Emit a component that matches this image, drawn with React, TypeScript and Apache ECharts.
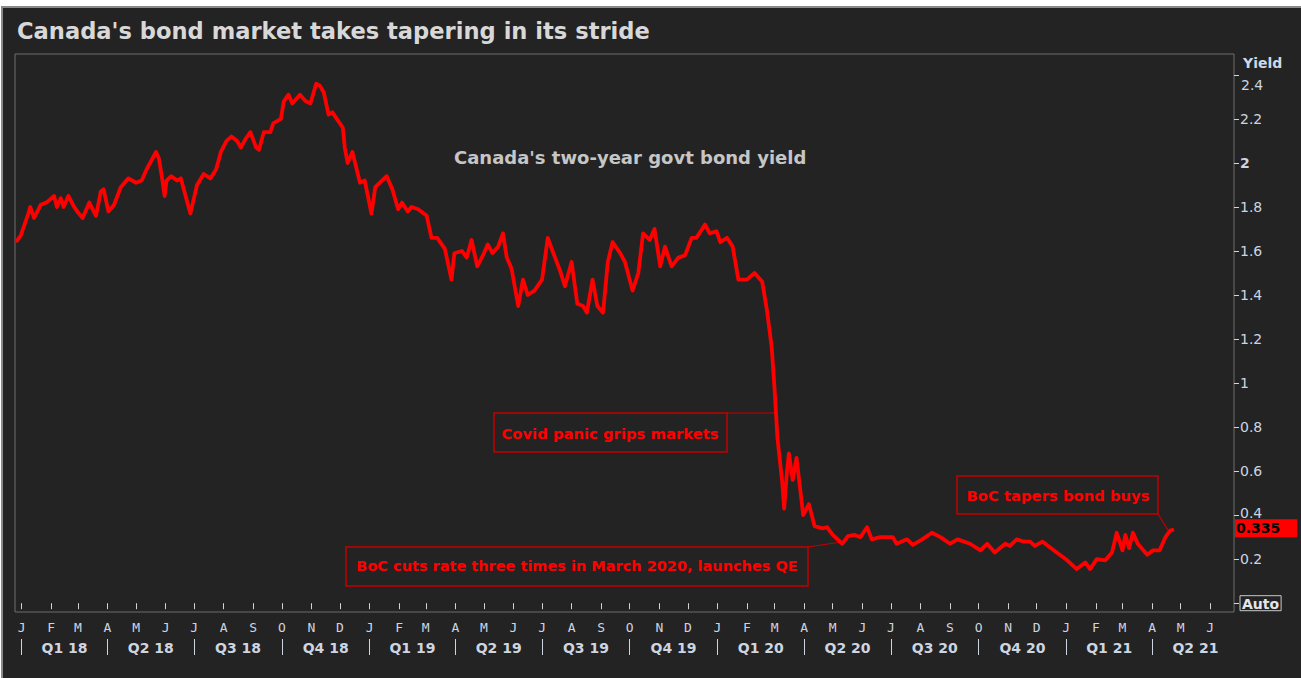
import React, { useEffect, useRef } from "react";
import * as echarts from "echarts";

const titleText = "Canada's bond market takes tapering in its stride";
const seriesLabel = "Canada's two-year govt bond yield";
const axisName = "Yield";
const axisStart = "2017-12-25";
const axisEnd = "2021-06-26";
const lastValue = 0.335;

const monthLetters = ["J", "F", "M", "A", "M", "J", "J", "A", "S", "O", "N", "D"];
const yTickValues = [0, 0.2, 0.4, 0.6, 0.8, 1, 1.2, 1.4, 1.6, 1.8, 2, 2.2, 2.4];

const dates = [
  "2017-12-26", "2017-12-31", "2018-01-04", "2018-01-08", "2018-01-10", "2018-01-14", "2018-01-21", "2018-01-27",
  "2018-02-04", "2018-02-07", "2018-02-11", "2018-02-14", "2018-02-19", "2018-02-25", "2018-03-02", "2018-03-06",
  "2018-03-13", "2018-03-20", "2018-03-25", "2018-03-28", "2018-04-02", "2018-04-08", "2018-04-15", "2018-04-23",
  "2018-05-01", "2018-05-07", "2018-05-12", "2018-05-17", "2018-05-22", "2018-05-25", "2018-05-28", "2018-05-31",
  "2018-06-02", "2018-06-07", "2018-06-13", "2018-06-17", "2018-06-22", "2018-06-27", "2018-07-04", "2018-07-11",
  "2018-07-18", "2018-07-24", "2018-07-29", "2018-08-04", "2018-08-09", "2018-08-15", "2018-08-19", "2018-08-24",
  "2018-08-29", "2018-09-04", "2018-09-07", "2018-09-12", "2018-09-19", "2018-09-22", "2018-09-30", "2018-10-03",
  "2018-10-08", "2018-10-12", "2018-10-20", "2018-10-26", "2018-10-31", "2018-11-06", "2018-11-10", "2018-11-14",
  "2018-11-19", "2018-11-23", "2018-12-04", "2018-12-06", "2018-12-09", "2018-12-14", "2018-12-22", "2018-12-27",
  "2019-01-03", "2019-01-07", "2019-01-19", "2019-01-25", "2019-01-31", "2019-02-04", "2019-02-10", "2019-02-14",
  "2019-02-21", "2019-03-02", "2019-03-07", "2019-03-13", "2019-03-21", "2019-03-28", "2019-03-31", "2019-04-08",
  "2019-04-13", "2019-04-18", "2019-04-24", "2019-04-30", "2019-05-05", "2019-05-10", "2019-05-16", "2019-05-21",
  "2019-05-25", "2019-05-30", "2019-06-06", "2019-06-11", "2019-06-16", "2019-06-23", "2019-07-01", "2019-07-07",
  "2019-07-12", "2019-07-20", "2019-07-25", "2019-08-01", "2019-08-07", "2019-08-13", "2019-08-17", "2019-08-23",
  "2019-08-28", "2019-09-03", "2019-09-08", "2019-09-13", "2019-09-21", "2019-09-26", "2019-10-04", "2019-10-10",
  "2019-10-15", "2019-10-22", "2019-10-27", "2019-11-02", "2019-11-07", "2019-11-14", "2019-11-21", "2019-11-28",
  "2019-12-05", "2019-12-10", "2019-12-19", "2019-12-24", "2019-12-31", "2020-01-04", "2020-01-11", "2020-01-17",
  "2020-01-23", "2020-02-01", "2020-02-09", "2020-02-17", "2020-02-22", "2020-02-27", "2020-03-01", "2020-03-04",
  "2020-03-09", "2020-03-11", "2020-03-14", "2020-03-16", "2020-03-20", "2020-03-24", "2020-03-27", "2020-03-31",
  "2020-04-06", "2020-04-12", "2020-04-20", "2020-04-25", "2020-05-01", "2020-05-11", "2020-05-17", "2020-05-24",
  "2020-05-30", "2020-06-06", "2020-06-11", "2020-06-20", "2020-06-28", "2020-07-03", "2020-07-07", "2020-07-18",
  "2020-07-24", "2020-08-03", "2020-08-13", "2020-08-22", "2020-09-01", "2020-09-09", "2020-09-22", "2020-10-03",
  "2020-10-10", "2020-10-18", "2020-10-29", "2020-11-03", "2020-11-10", "2020-11-17", "2020-11-24", "2020-11-29",
  "2020-12-07", "2020-12-13", "2020-12-22", "2021-01-02", "2021-01-12", "2021-01-21", "2021-01-26", "2021-02-02",
  "2021-02-11", "2021-02-18", "2021-02-23", "2021-03-01", "2021-03-04", "2021-03-08", "2021-03-12", "2021-03-17",
  "2021-03-27", "2021-04-02", "2021-04-09", "2021-04-15", "2021-04-20", "2021-04-24",
];

const yields = [
  1.64, 1.67, 1.72, 1.77, 1.8, 1.75, 1.81, 1.82,
  1.85, 1.8, 1.84, 1.8, 1.85, 1.8, 1.77, 1.75,
  1.82, 1.76, 1.87, 1.88, 1.78, 1.81, 1.89, 1.93,
  1.91, 1.92, 1.97, 2.01, 2.05, 2.02, 1.94, 1.85,
  1.92, 1.94, 1.92, 1.93, 1.85, 1.77, 1.9, 1.95,
  1.93, 1.97, 2.05, 2.1, 2.12, 2.1, 2.07, 2.11,
  2.14, 2.07, 2.06, 2.14, 2.14, 2.18, 2.2, 2.28,
  2.31, 2.27, 2.31, 2.28, 2.27, 2.36, 2.35, 2.32,
  2.22, 2.23, 2.16, 2.07, 2.0, 2.05, 1.91, 1.92,
  1.77, 1.89, 1.94, 1.88, 1.79, 1.82, 1.78, 1.8,
  1.79, 1.76, 1.66, 1.66, 1.61, 1.47, 1.59, 1.6,
  1.57, 1.65, 1.53, 1.58, 1.63, 1.59, 1.62, 1.68,
  1.57, 1.52, 1.35, 1.47, 1.4, 1.42, 1.47, 1.66,
  1.6, 1.51, 1.44, 1.55, 1.36, 1.35, 1.32, 1.47,
  1.35, 1.32, 1.55, 1.64, 1.59, 1.55, 1.42, 1.5,
  1.68, 1.65, 1.7, 1.53, 1.62, 1.53, 1.57, 1.58,
  1.66, 1.66, 1.72, 1.68, 1.69, 1.64, 1.66, 1.62,
  1.47, 1.47, 1.5, 1.46, 1.33, 1.16, 0.97, 0.75,
  0.55, 0.43, 0.6, 0.68, 0.56, 0.66, 0.55, 0.4,
  0.45, 0.35, 0.34, 0.345, 0.31, 0.27, 0.305, 0.31,
  0.3, 0.345, 0.29, 0.3, 0.3, 0.3, 0.27, 0.29,
  0.265, 0.29, 0.32, 0.3, 0.27, 0.29, 0.27, 0.24,
  0.27, 0.23, 0.27, 0.26, 0.29, 0.28, 0.28, 0.26,
  0.28, 0.26, 0.23, 0.195, 0.155, 0.185, 0.155, 0.2,
  0.195, 0.23, 0.32, 0.24, 0.31, 0.25, 0.32, 0.27,
  0.22, 0.24, 0.24, 0.3, 0.33, 0.335,
];

const annotationTexts = [
  "Covid panic grips markets",
  "BoC cuts rate three times in March 2020, launches QE",
  "BoC tapers bond buys",
];
const annotationAnchorDates = ["2020-03-01", "2020-05-08", "2021-04-18"];
const annotationAnchorValues = [0.864, 0.277, 0.33];

function parseDate(s: string): number {
  const [y, m, d] = s.split("-").map(Number);
  return new Date(y, m - 1, d).getTime();
}

const LABEL = "#cdd5e1";
const RED = "#ff0000";
const BOX = "#c40000";

export default function App() {
  const ref = useRef<HTMLDivElement>(null);

  useEffect(() => {
    document.body.style.margin = "0";
    if (!ref.current) return;
    const chart = echarts.init(ref.current, null, { renderer: "svg" });

    const minT = parseDate(axisStart);
    const maxT = parseDate(axisEnd);

    const monthStarts: number[] = [];
    for (let y = 2018; y <= 2021; y++) {
      for (let m = 0; m < 12; m++) {
        if (y === 2021 && m > 5) break;
        monthStarts.push(new Date(y, m, 1).getTime());
      }
    }
    const quarterStarts: number[] = [];
    const quarterMids: number[] = [];
    for (let y = 2018; y <= 2021; y++) {
      for (let q = 0; q < 4; q++) {
        if (y === 2021 && q > 1) break;
        const s = new Date(y, q * 3, 1).getTime();
        const e = new Date(y, q * 3 + 3, 1).getTime();
        quarterStarts.push(s);
        quarterMids.push(s + (e - s) / 2);
      }
    }

    const seriesData = dates.map((d, i) => [parseDate(d), yields[i]]);

    const fontMain = '"DejaVu Sans", sans-serif';

    chart.setOption({
      animation: false,
      backgroundColor: "#ffffff",
      grid: {
        left: 15,
        right: 67,
        top: 54,
        bottom: 66,
        show: true,
        borderColor: "#6e6e6e",
        borderWidth: 1,
        backgroundColor: "transparent",
        containLabel: false,
      },
      xAxis: [
        {
          type: "value",
          min: minT,
          max: maxT,
          position: "bottom",
          axisLine: { show: false },
          splitLine: { show: false },
          axisTick: {
            show: true,
            customValues: monthStarts,
            length: 6,
            lineStyle: { color: LABEL, width: 1 },
          },
          axisLabel: {
            show: true,
            customValues: monthStarts,
            margin: 9,
            fontSize: 13,
            fontFamily: '"DejaVu Sans Mono", monospace',
            color: LABEL,
            formatter: (v: number) => monthLetters[new Date(v).getMonth()],
          },
        },
        {
          type: "value",
          min: minT,
          max: maxT,
          position: "bottom",
          offset: 27,
          axisLine: { show: false },
          splitLine: { show: false },
          axisTick: {
            show: true,
            customValues: quarterStarts,
            length: 16,
            lineStyle: { color: LABEL, width: 1 },
          },
          axisLabel: {
            show: true,
            customValues: quarterMids,
            margin: 2,
            fontSize: 14,
            fontWeight: "bold",
            fontFamily: fontMain,
            color: LABEL,
            formatter: (v: number) => {
              const d = new Date(v);
              const q = Math.floor(d.getMonth() / 3) + 1;
              return "Q" + q + " " + String(d.getFullYear()).slice(2);
            },
          },
        },
      ],
      yAxis: {
        type: "value",
        position: "right",
        min: -0.04,
        max: 2.495,
        splitLine: { show: false },
        axisLine: { show: false },
        axisTick: {
          show: true,
          customValues: yTickValues,
          length: 5,
          lineStyle: { color: LABEL },
        },
        axisLabel: {
          show: true,
          customValues: yTickValues,
          margin: 6,
          fontSize: 14,
          fontFamily: fontMain,
          color: LABEL,
          formatter: (v: number) => {
            const r = Math.round(v * 10) / 10;
            if (r === 0) return "{auto|Auto}";
            if (r === 2) return "{b|2}";
            if (r === 2.4) return "{low|2.4}";
            if (r === 0.4) return "{up|0.4}";
            return String(r);
          },
          rich: {
            auto: {
              fontSize: 14,
              fontWeight: "bold",
              fontFamily: fontMain,
              color: "#e2e6ec",
              borderColor: "#c8c8c8",
              borderWidth: 1,
              padding: [1, 2, 0, 2],
            },
            b: {
              fontSize: 14,
              fontWeight: "bold",
              fontFamily: fontMain,
              color: LABEL,
            },
            low: {
              fontSize: 14,
              fontFamily: fontMain,
              color: LABEL,
              padding: [20, 0, 0, 1],
            },
            up: {
              fontSize: 14,
              fontFamily: fontMain,
              color: LABEL,
              lineHeight: 14,
              padding: [0, 0, 5, 0],
            },
          },
        },
      },
      series: [
        {
          type: "line",
          data: seriesData,
          showSymbol: false,
          symbol: "none",
          lineStyle: { color: RED, width: 3.8, join: "round" },
          itemStyle: { color: RED },
          z: 5,
          markLine: {
            silent: true,
            symbol: "none",
            lineStyle: { color: "rgba(0,0,0,0)", width: 0, type: "solid" },
            data: [{ yAxis: lastValue }],
            label: {
              show: true,
              position: "end",
              distance: 1,
              formatter: String(lastValue),
              color: "#000000",
              fontWeight: "bold",
              fontSize: 14,
              fontFamily: fontMain,
              backgroundColor: RED,
              lineHeight: 16,
              padding: [1, 17, 1, 1],
            },
          },
        },
      ],
      graphic: {
        elements: [
          {
            id: "panel",
            type: "rect",
            z: -10,
            silent: true,
            shape: { x: 2, y: 7, width: 1302, height: 675 },
            style: { fill: "#232323", stroke: "#8a8a8a", lineWidth: 2 },
          },
          {
            id: "title",
            type: "text",
            x: 17,
            y: 31,
            style: {
              text: titleText,
              fill: "#d8d8d8",
              font: "bold 22.6px " + fontMain,
              verticalAlign: "middle",
              textAlign: "left",
            },
          },
          {
            id: "serieslabel",
            type: "text",
            x: 454,
            y: 157,
            style: {
              text: seriesLabel,
              fill: "#c6c6c6",
              font: "bold 18px " + fontMain,
              verticalAlign: "middle",
              textAlign: "left",
            },
          },
          {
            id: "yname",
            type: "text",
            x: 1243,
            y: 63,
            style: {
              text: axisName,
              fill: "#cfd8e6",
              font: "bold 14px " + fontMain,
              verticalAlign: "middle",
              textAlign: "left",
            },
          },
          {
            id: "box0",
            type: "rect",
            shape: { x: 494, y: 413, width: 233, height: 39 },
            style: { fill: "none", stroke: BOX, lineWidth: 1.5 },
          },
          {
            id: "txt0",
            type: "text",
            x: 610,
            y: 433,
            style: {
              text: annotationTexts[0],
              fill: RED,
              font: "bold 14.8px " + fontMain,
              verticalAlign: "middle",
              textAlign: "center",
            },
          },
          {
            id: "box1",
            type: "rect",
            shape: { x: 346, y: 547, width: 462, height: 39 },
            style: { fill: "none", stroke: BOX, lineWidth: 1.5 },
          },
          {
            id: "txt1",
            type: "text",
            x: 577,
            y: 566,
            style: {
              text: annotationTexts[1],
              fill: RED,
              font: "bold 14.5px " + fontMain,
              verticalAlign: "middle",
              textAlign: "center",
            },
          },
          {
            id: "box2",
            type: "rect",
            shape: { x: 957, y: 476, width: 201, height: 38 },
            style: { fill: "none", stroke: BOX, lineWidth: 1.5 },
          },
          {
            id: "txt2",
            type: "text",
            x: 1058,
            y: 495,
            style: {
              text: annotationTexts[2],
              fill: RED,
              font: "bold 14.8px " + fontMain,
              verticalAlign: "middle",
              textAlign: "center",
            },
          },
        ],
      },
    });

    const anchors = annotationAnchorDates.map((d, i) =>
      chart.convertToPixel({ xAxisIndex: 0, yAxisIndex: 0 }, [parseDate(d), annotationAnchorValues[i]]) as number[]
    );
    const starts = [
      [727, 413],
      [808, 547],
      [1158, 514],
    ];
    chart.setOption({
      graphic: {
        elements: anchors.map((a, i) => ({
          id: "conn" + i,
          type: "line",
          shape: {
            x1: starts[i][0],
            y1: starts[i][1],
            x2: a[0],
            y2: i === 0 ? starts[i][1] : a[1],
          },
          style: { stroke: BOX, lineWidth: 1.2 },
        })),
      },
    });

    return () => chart.dispose();
  }, []);

  return <div ref={ref} style={{ width: 1301, height: 678 }} />;
}
